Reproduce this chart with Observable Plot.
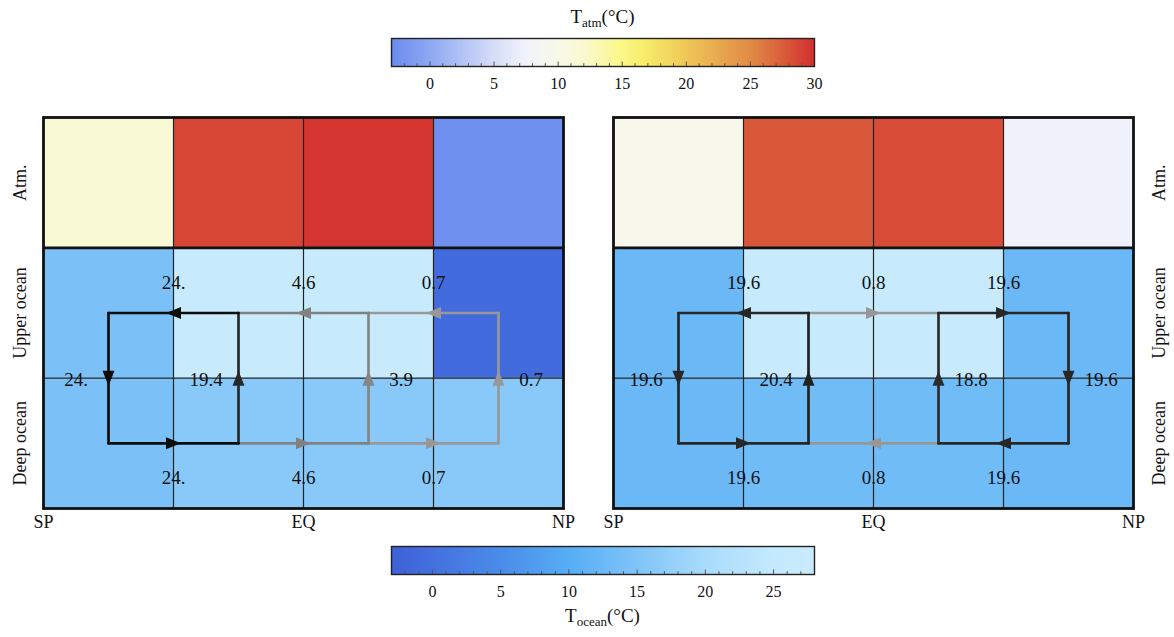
<!DOCTYPE html>
<html>
<head>
<meta charset="utf-8">
<script src="https://cdn.jsdelivr.net/npm/d3@7"></script>
<script src="https://cdn.jsdelivr.net/npm/@observablehq/plot@0.6"></script>
<style>
  body { margin: 0; background: #fff; }
  #chart { position: relative; width: 1174px; height: 637px; font-family: "Liberation Serif", serif; color: #111; }
  #chart > * { position: absolute; }
  .title { left: 391px; width: 423px; text-align: center; font-size: 19px; line-height: 20px; }
  .title sub { font-size: 13px; vertical-align: -4px; line-height: 0; }
</style>
</head>
<body>
<div id="chart"></div>
<script>
// Column edges (0 = SP … 4 = NP) and layer centres
const xTickPos = [0, 2, 4];
const xTickLabels = ["SP", "EQ", "NP"];
const layerPos = [2.5, 1.5, 0.5];
const layerLabels = ["Atm.", "Upper ocean", "Deep ocean"];

// Atmosphere colour map (°C)
const atmStops = [-3, 0, 5, 7.5, 10, 12, 15, 17, 20, 25, 30];
const atmColors = ["#6b8cef", "#8ea8f2", "#d6def8", "#f1f3fb", "#f8f9e8", "#f9f9d0", "#fbf885", "#f6ea68", "#efc857", "#e08b45", "#d42f2f"];
const atmTicks = [0, 5, 10, 15, 20, 25, 30];

// Ocean colour map (°C)
const oceanStops = [-3, 0, 5, 10, 15, 20, 25, 28];
const oceanColors = ["#3e61d8", "#4470df", "#4a8ce9", "#56aef5", "#80c4f8", "#a8dcfb", "#c4eafd", "#c8ecfd"];
const oceanTicks = [0, 5, 10, 15, 20, 25];

// Box temperatures, SP → NP (°C)
const atmA = [11.5, 28.8, 29.7, -2.6];
const upperA = [14.4, 27, 27, -0.8];
const deepA = [14.4, 16, 16, 16];
const atmB = [9.6, 27.8, 28.5, 7.3];
const upperB = [12.4, 27, 27, 12.4];
const deepB = [12.4, 13.1, 13.1, 12.4];

// Transports: horizontal ones at column edges 1..3 (positive = northward),
// vertical ones at x = 0.5..3.5 (positive = upward)
const upperFlowA = [-24, -4.6, -0.7];
const deepFlowA = [24, 4.6, 0.7];
const riseA = [-24, 19.4, 3.9, 0.7];
const upperFlowB = [-19.6, 0.8, 19.6];
const deepFlowB = [19.6, -0.8, -19.6];
const riseB = [-19.6, 20.4, 18.8, -19.6];

const atmColor = d3.scaleLinear(atmStops, atmColors).interpolate(d3.interpolateRgb).clamp(true);
const oceanColor = d3.scaleLinear(oceanStops, oceanColors).interpolate(d3.interpolateRgb).clamp(true);
const fmt = (f) => { const a = Math.abs(f); return Number.isInteger(a) ? a + "." : String(a); };

// Filled triangular arrow head for Plot.vector
const arrowHead = {
  draw(context, l, r) {
    context.moveTo(-r, 0);
    context.lineTo(0, -l);
    context.lineTo(r, 0);
    context.closePath();
  }
};

const chart = document.getElementById("chart");

function place(node, left, top) {
  node.style.left = left + "px";
  node.style.top = top + "px";
  chart.appendChild(node);
}

function panel({atm, upper, deep, upperFlow, deepFlow, rise, side}) {
  const cells = [];
  [[deep, 0], [upper, 1]].forEach(([row, j]) =>
    row.forEach((t, i) => cells.push({x1: i, x2: i + 1, y1: j, y2: j + 1, fill: oceanColor(t)})));
  atm.forEach((t, i) => cells.push({x1: i, x2: i + 1, y1: 2, y2: 3, fill: atmColor(t)}));

  const segs = [], arrows = [], labels = [];
  [[upperFlow, 1.5, 1.75], [deepFlow, 0.5, 0.25]].forEach(([flows, y, ly]) =>
    flows.forEach((f, i) => {
      segs.push({x1: i + 0.5, x2: i + 1.5, y1: y, y2: y, v: Math.abs(f)});
      arrows.push({x: i + 1, y, rotate: f > 0 ? 90 : 270, v: Math.abs(f)});
      labels.push({x: i + 1, y: ly, text: fmt(f)});
    }));
  rise.forEach((f, i) => {
    segs.push({x1: i + 0.5, x2: i + 0.5, y1: 0.5, y2: 1.5, v: Math.abs(f)});
    arrows.push({x: i + 0.5, y: 1, rotate: f > 0 ? 0 : 180, v: Math.abs(f)});
    labels.push({x: i < 2 ? i + 0.25 : i + 0.75, y: 1, text: fmt(f)});
  });
  segs.sort((a, b) => a.v - b.v);

  const left = side === "left";
  return Plot.plot({
    width: left ? 590 : 584,
    height: 440,
    marginLeft: left ? 43 : 23,
    marginRight: left ? 27 : 41,
    marginTop: 17,
    marginBottom: 32,
    x: {domain: [0, 4], axis: null},
    y: {domain: [0, 3], axis: null},
    color: {type: "linear", domain: [0, 24], range: ["#9c9c9c", "#0d0d0d"]},
    style: {fontFamily: "Liberation Serif", fontSize: "19px", background: "transparent", color: "#111", overflow: "visible"},
    marks: [
      Plot.rect(cells, {x1: "x1", x2: "x2", y1: "y1", y2: "y2", fill: "fill"}),
      Plot.ruleX([1, 2, 3], {stroke: "#222", strokeWidth: 1.2}),
      Plot.ruleY([1], {stroke: "#222", strokeWidth: 1.2}),
      Plot.ruleY([2], {stroke: "#111", strokeWidth: 2.7}),
      Plot.frame({stroke: "#111", strokeWidth: 2.8}),
      Plot.link(segs, {x1: "x1", y1: "y1", x2: "x2", y2: "y2", stroke: "v", strokeWidth: 2.7, strokeLinecap: "round"}),
      Plot.vector(arrows, {x: "x", y: "y", rotate: "rotate", length: 15, r: 6, anchor: "middle", shape: arrowHead, fill: "v", stroke: "none"}),
      Plot.text(labels, {x: "x", y: "y", text: "text", fill: "#111", dy: 2}),
      Plot.text(xTickPos, {x: (d) => d, text: (d, i) => xTickLabels[i], frameAnchor: "bottom", textAnchor: "middle", lineAnchor: "middle", dy: 14, fontSize: 18}),
      Plot.text(layerPos, {y: (d) => d, text: (d, i) => layerLabels[i], frameAnchor: side, textAnchor: "middle", lineAnchor: "middle", dx: left ? -23 : 26, rotate: -90, fontSize: 18})
    ]
  });
}

function colorbar({stops, colors, ticks, domain, height, marginTop}) {
  const minor = d3.range(Math.ceil(domain[0]) + 1, domain[1]);
  return Plot.plot({
    width: 1174,
    height,
    marginLeft: 391,
    marginRight: 360,
    marginTop,
    marginBottom: height - marginTop - 28,
    x: {domain, axis: null},
    y: {domain: [0, 1], axis: null},
    color: {type: "linear", domain: stops, range: colors, interpolate: "rgb"},
    style: {fontFamily: "Liberation Serif", fontSize: "16px", background: "transparent", color: "#111", overflow: "visible"},
    marks: [
      Plot.raster({fill: (x, y) => x, x1: domain[0], x2: domain[1], y1: 0, y2: 1, width: 423, height: 1}),
      Plot.ruleX(minor, {y1: 0, y2: (d) => (d % 5 === 0 ? 0.16 : 0.1), stroke: "#555", strokeWidth: 1}),
      Plot.frame({stroke: "#222", strokeWidth: 1.4}),
      Plot.text(ticks, {x: (d) => d, text: (d) => String(d), frameAnchor: "bottom", textAnchor: "middle", lineAnchor: "middle", dy: 17})
    ]
  });
}

place(colorbar({stops: atmStops, colors: atmColors, ticks: atmTicks, domain: [-3, 30], height: 100, marginTop: 38}), 0, 0);
place(panel({atm: atmA, upper: upperA, deep: deepA, upperFlow: upperFlowA, deepFlow: deepFlowA, rise: riseA, side: "left"}), 0, 100);
place(panel({atm: atmB, upper: upperB, deep: deepB, upperFlow: upperFlowB, deepFlow: deepFlowB, rise: riseB, side: "right"}), 590, 100);
place(colorbar({stops: oceanStops, colors: oceanColors, ticks: oceanTicks, domain: [-3, 28], height: 90, marginTop: 26}), 0, 520);

const t1 = document.createElement("div");
t1.className = "title";
t1.innerHTML = "T<sub>atm</sub>(°C)";
place(t1, 391, 7);
const t2 = document.createElement("div");
t2.className = "title";
t2.innerHTML = "T<sub>ocean</sub>(°C)";
place(t2, 391, 606);
</script>
</body>
</html>
